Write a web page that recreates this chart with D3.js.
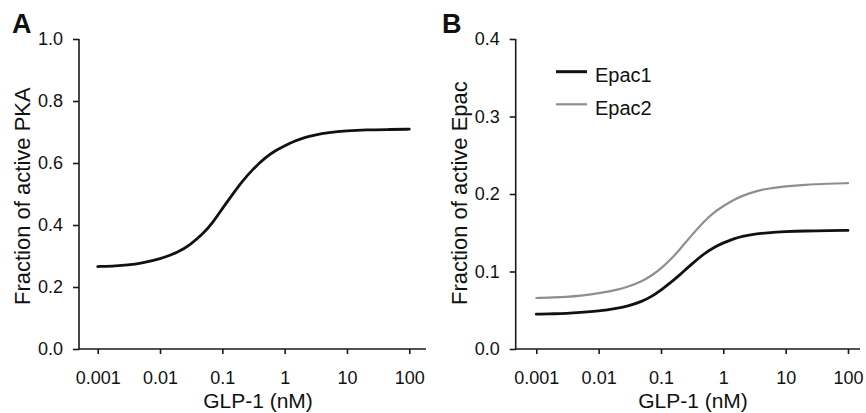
<!DOCTYPE html>
<html>
<head>
<meta charset="utf-8">
<script src="https://cdn.jsdelivr.net/npm/d3@7/dist/d3.min.js"></script>
<style>
  html, body { margin: 0; padding: 0; background: #fff; }
  svg { display: block; }
  text { font-family: "Liberation Sans", Arial, sans-serif; fill: #111; }
</style>
</head>
<body>
<svg id="chart" width="866" height="413"></svg>
<script>
// ---- Data ----
const glp = [0.001, 0.002, 0.003, 0.005, 0.01, 0.02, 0.03, 0.05, 0.07, 0.1, 0.15, 0.2, 0.3, 0.5, 0.7, 1, 1.5, 2, 3, 5, 10, 20, 50, 100];
const pka = [0.266, 0.268, 0.271, 0.277, 0.290, 0.313, 0.335, 0.373, 0.407, 0.453, 0.502, 0.536, 0.578, 0.619, 0.639, 0.656, 0.672, 0.681, 0.690, 0.698, 0.704, 0.707, 0.708, 0.709];
const epac1 = [0.045, 0.0455, 0.046, 0.047, 0.0488, 0.0525, 0.0555, 0.0615, 0.0675, 0.0760, 0.0870, 0.0955, 0.1085, 0.1235, 0.1310, 0.1370, 0.1425, 0.1455, 0.1480, 0.1500, 0.1515, 0.1523, 0.1528, 0.1530];
const epac2 = [0.0658, 0.0665, 0.0672, 0.0684, 0.0718, 0.0765, 0.0805, 0.0875, 0.0945, 0.1035, 0.1170, 0.1285, 0.1455, 0.1655, 0.1760, 0.1845, 0.1930, 0.1975, 0.2025, 0.2070, 0.2100, 0.2120, 0.2133, 0.2140];
const xTicks = [0.001, 0.01, 0.1, 1, 10, 100];
const xTickLabels = ["0.001", "0.01", "0.1", "1", "10", "100"];
const yTicksA = [0, 0.2, 0.4, 0.6, 0.8, 1.0];
const yTicksB = [0, 0.1, 0.2, 0.3, 0.4];
const seriesNames = ["Epac1", "Epac2"];
const seriesColors = ["#111111", "#8e8e8e"];

const svg = d3.select("#chart");

function panel(opts) {
  const g = svg.append("g");
  const x = d3.scaleLog().domain([0.001, 100]).range(opts.xr);
  const y = d3.scaleLinear().domain(opts.yd).range([349, 39]);

  // axis lines
  g.append("line").attr("x1", opts.axL).attr("x2", opts.axR).attr("y1", 349).attr("y2", 349)
    .attr("stroke", "#1a1a1a").attr("stroke-width", 1.6);
  g.append("line").attr("x1", opts.axL).attr("x2", opts.axL).attr("y1", 39).attr("y2", 349.8)
    .attr("stroke", "#1a1a1a").attr("stroke-width", 1.6);

  const xa = d3.axisBottom(x).tickValues(xTicks).tickFormat((d, i) => xTickLabels[i])
    .tickSize(5).tickSizeOuter(0).tickPadding(17);
  const gx = g.append("g").attr("transform", "translate(0,349)").call(xa);
  gx.select(".domain").remove();
  gx.selectAll(".tick line").attr("stroke", "#1a1a1a").attr("stroke-width", 1.6);
  gx.selectAll(".tick text").attr("font-size", 18).attr("font-family", "Liberation Sans, Arial, sans-serif").attr("fill", "#111");

  const ya = d3.axisLeft(y).tickValues(opts.yt).tickFormat(d3.format(".1f"))
    .tickSize(6).tickSizeOuter(0).tickPadding(10);
  const gy = g.append("g").attr("transform", `translate(${opts.axL},0)`).call(ya);
  gy.select(".domain").remove();
  gy.selectAll(".tick line").attr("stroke", "#1a1a1a").attr("stroke-width", 1.6);
  gy.selectAll(".tick text").attr("font-size", 18).attr("font-family", "Liberation Sans, Arial, sans-serif").attr("fill", "#111");

  const line = d3.line().x((d, i) => x(glp[i])).y(d => y(d)).curve(d3.curveBasis);
  opts.series.forEach(s => {
    g.append("path").datum(s.values).attr("d", line).attr("fill", "none")
      .attr("stroke", s.color).attr("stroke-width", s.width).attr("stroke-linecap", "round");
  });

  // titles
  g.append("text").attr("x", opts.xtx).attr("y", 408).attr("text-anchor", "middle")
    .attr("font-size", 21).text("GLP-1 (nM)");
  g.append("text").attr("transform", `translate(${opts.ytx},305) rotate(-90)`)
    .attr("text-anchor", "start").attr("font-size", 22).text(opts.ytitle);
  g.append("text").attr("x", opts.lx).attr("y", 33).attr("font-size", 27)
    .attr("font-weight", "bold").text(opts.letter);
  return g;
}

panel({
  xr: [97.7, 409.3], axL: 79, axR: 426, yd: [0, 1], yt: yTicksA,
  series: [{ values: pka, color: "#111", width: 2.8 }],
  xtx: 258, ytx: 30, ytitle: "Fraction of active PKA", letter: "A", lx: 12
});

const gB = panel({
  xr: [536.3, 848], axL: 515.7, axR: 860, yd: [0, 0.4], yt: yTicksB,
  series: [
    { values: epac1, color: seriesColors[0], width: 2.8 },
    { values: epac2, color: seriesColors[1], width: 2.2 }
  ],
  xtx: 693, ytx: 467, ytitle: "Fraction of active Epac", letter: "B", lx: 442
});

// legend
const leg = gB.append("g");
seriesNames.forEach((n, i) => {
  const yy = 71.7 + i * 32.6;
  leg.append("line").attr("x1", 556).attr("x2", 587).attr("y1", yy).attr("y2", yy)
    .attr("stroke", seriesColors[i]).attr("stroke-width", i === 0 ? 3 : 2.2);
  leg.append("text").attr("x", 595).attr("y", yy + 10.3).attr("font-size", 20).text(n);
});
</script>
</body>
</html>
